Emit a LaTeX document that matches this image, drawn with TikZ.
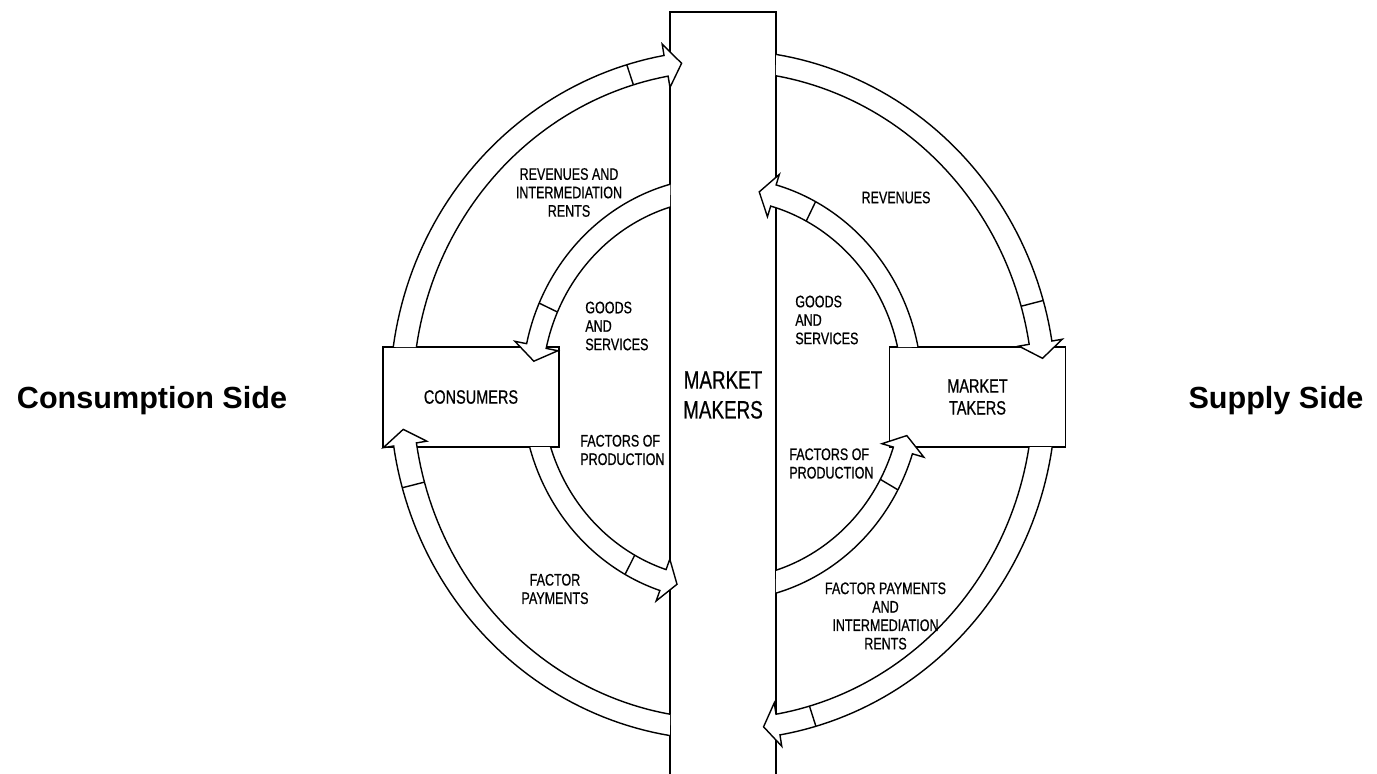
\documentclass[tikz,border=0pt]{standalone}
\usepackage{fontspec}
\newfontfamily\lab[FakeStretch=0.75,FakeBold=0.6]{Liberation Sans}
\newfontfamily\sidefont{Liberation Sans}
\newcommand{\setell}[6]{\def\ecx{#1}\def\ecy{#2}\def\erxo{#3}\def\eryo{#4}\def\erxi{#5}\def\eryi{#6}}
% #1 tail angle outer line, #2 tail angle inner line, #3 head base angle, #4 tip angle, #5 cross-line angle
\newcommand{\flowband}[5]{%
  \pgfmathsetmacro\erxm{(\erxo+\erxi)/2}%
  \pgfmathsetmacro\erym{(\eryo+\eryi)/2}%
  \draw[flow] plot[domain=#1:#3,samples=50] ({\ecx+\erxo*cos(\x)},{\ecy+\eryo*sin(\x)})
    -- ({\ecx+(\erxm+22)*cos(#3)},{\ecy+(\erym+22)*sin(#3)})
    -- ({\ecx+\erxm*cos(#4)},{\ecy+\erym*sin(#4)})
    -- ({\ecx+(\erxm-22)*cos(#3)},{\ecy+(\erym-22)*sin(#3)})
    -- plot[domain=#3:#2,samples=50] ({\ecx+\erxi*cos(\x)},{\ecy+\eryi*sin(\x)});
  \draw[flow] ({\ecx+\erxo*cos(#5)},{\ecy+\eryo*sin(#5)}) -- ({\ecx+\erxi*cos(#5)},{\ecy+\eryi*sin(#5)});
}
\begin{document}
\begin{tikzpicture}[x=0.02cm,y=-0.02cm,
  flow/.style={draw=black,fill=white,line width=0.8pt,line join=miter},
  boxline/.style={draw=black,line width=1pt},
  box/.style={draw=black,fill=white,line width=1pt,minimum width=3.52cm,minimum height=2cm,inner sep=0pt,align=center,font=\lab\fontsize{11}{12.5}\selectfont},
  small/.style={inner sep=0pt,font=\lab\fontsize{9.5}{10.5}\selectfont},
  side/.style={inner sep=0pt,anchor=base,font=\sidefont\bfseries\fontsize{17.4}{20}\selectfont}]
\useasboundingbox (0,0) rectangle (1377,774);
\fill[white] (0,0) rectangle (1377,774);

% market makers column (open at the bottom)
\draw[boxline] (670,774) -- (670,12) -- (776,12) -- (776,774);
\node[inner sep=0pt,align=center,font=\lab\fontsize{14.3}{17}\selectfont] (makers) at (723,395) {MARKET\\MAKERS};

% side boxes
\node[box] (consumers) at (471,397) {CONSUMERS};
\node[box] (takers) at (977.5,397) {MARKET\\TAKERS};

% outer ring: clockwise flows
\setell{723}{395}{333}{345}{310}{324}
\flowband{188.0}{188.5}{259.8}{262.6}{253.2}
\flowband{279.2}{279.8}{351.0}{353.7}{344.1}
\flowband{8.67}{9.24}{80.15}{82.75}{73.8}
\flowband{99.2}{99.8}{171.5}{174.1}{164.4}

% inner ring: counter-clockwise flows
\setell{722}{389}{200}{212}{180}{190}
\flowband{255.07}{253.2}{192.35}{187.95}{203.9}
\flowband{164.12}{162.22}{108.1}{103.7}{119}
\flowband{74.34}{72.54}{17.8}{13.4}{28.4}
\flowband{348.57}{347.23}{285.7}{281.3}{297.9}

% labels
\node[small,align=center] (revint) at (569,192.5) {REVENUES AND\\INTERMEDIATION\\RENTS};
\node[small,align=left,anchor=west] (goodsL) at (585,326) {GOODS\\AND\\SERVICES};
\node[small,align=left,anchor=west] (factL) at (580,450) {FACTORS OF\\PRODUCTION};
\node[small,align=center] (fpay) at (555,589) {FACTOR\\PAYMENTS};
\node[small] (rev) at (896,197.5) {REVENUES};
\node[small,align=left,anchor=west] (goodsR) at (795,320) {GOODS\\AND\\SERVICES};
\node[small,align=left,anchor=west] (factR) at (789,463.5) {FACTORS OF\\PRODUCTION};
\node[small,align=center] (fpayint) at (885.5,616) {FACTOR PAYMENTS\\AND\\INTERMEDIATION\\RENTS};

\node[side] (cside) at (152,408) {Consumption Side};
\node[side] (sside) at (1276,408) {Supply Side};
\end{tikzpicture}
\end{document}
